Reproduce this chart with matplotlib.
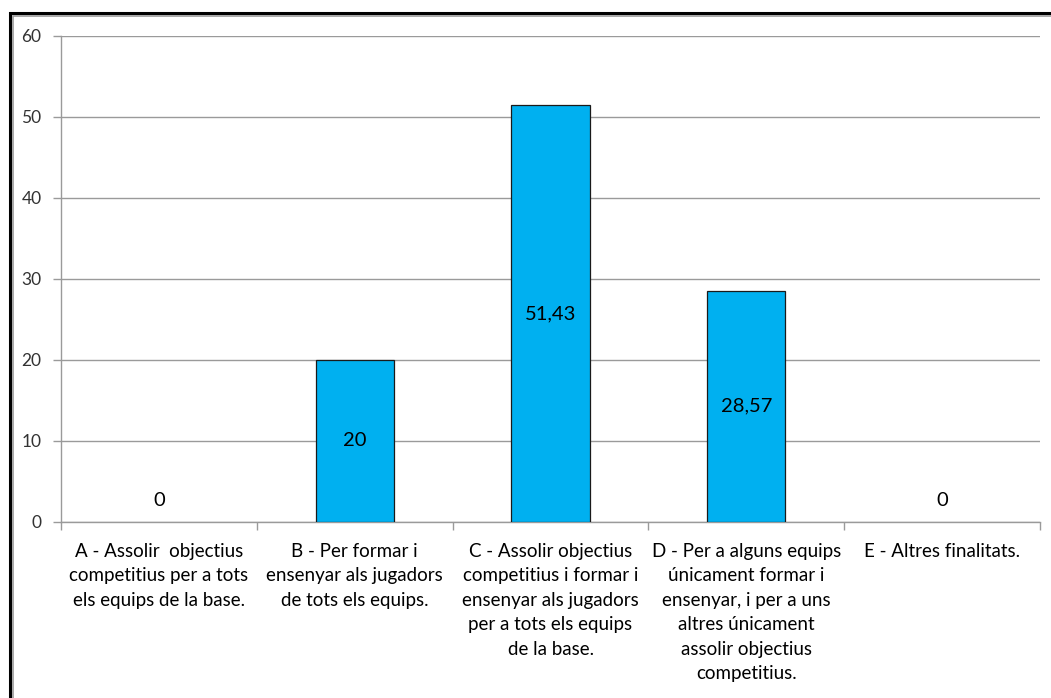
import matplotlib
matplotlib.use("Agg")
import matplotlib.pyplot as plt
from matplotlib.patches import Rectangle
from matplotlib.ticker import FixedLocator
import numpy as np

categories = [
    "A - Assolir  objectius\ncompetitius per a tots\nels equips de la base.",
    "B - Per formar i\nensenyar als jugadors\nde tots els equips.",
    "C - Assolir objectius\ncompetitius i formar i\nensenyar als jugadors\nper a tots els equips\nde la base.",
    "D - Per a alguns equips\núnicament formar i\nensenyar, i per a uns\naltres únicament\nassolir objectius\ncompetitius.",
    "E - Altres finalitats.",
]
values = [0, 20, 51.43, 28.57, 0]
value_labels = ["0", "20", "51,43", "28,57", "0"]

plt.rcParams["font.family"] = ["Lato", "DejaVu Sans"]

W, H = 1051, 698
fig = plt.figure(figsize=(W / 100, H / 100), dpi=100)
ax = fig.add_axes([61 / W, 1 - 522 / H, (1040 - 61) / W, (522 - 36) / H])

x = np.arange(len(categories))
edges = ["#1a1a1a" if v > 0 else "none" for v in values]
ax.bar(x, values, width=0.4, color="#00B0F0", edgecolor=edges,
       linewidth=0.9, zorder=3)

for xi, v, lab in zip(x, values, value_labels):
    if v > 0:
        ax.text(xi, v / 2, lab, ha="center", va="center", fontsize=14.5,
                color="black", zorder=4)
    else:
        ax.annotate(lab, (xi, v), xytext=(0, 21), textcoords="offset pixels",
                    ha="center", va="center", fontsize=14.5, color="black")

ax.set_xlim(-0.5, len(categories) - 0.5)
ax.set_ylim(0, 60)
ax.set_yticks(range(0, 61, 10))
ax.yaxis.grid(True, color="#9a9a9a", linewidth=1.0, zorder=0)
ax.set_axisbelow(True)

ax.set_xticks(x)
ax.set_xticklabels(categories, fontsize=13.5, linespacing=1.53,
                   ha="center", va="top")
ax.xaxis.set_minor_locator(FixedLocator(np.arange(-0.5, len(categories), 1.0)))
ax.tick_params(axis="x", which="major", length=0, pad=15)
ax.tick_params(axis="x", which="minor", length=6, color="#9a9a9a", width=1.0)
ax.tick_params(axis="y", length=6, color="#9a9a9a", width=1.0,
               labelsize=12.5, labelcolor="#333333", pad=8)

for side in ("top", "right"):
    ax.spines[side].set_visible(False)
for side in ("left", "bottom"):
    ax.spines[side].set_color("#9a9a9a")
    ax.spines[side].set_linewidth(1.0)

# chart frame, running off the right and bottom edges
frame = Rectangle((10 / W, -0.2), 1.3, 1 - 13 / H + 0.2,
                  transform=fig.transFigure, fill=False,
                  edgecolor="black", linewidth=2.2, clip_on=False)
fig.add_artist(frame)
shadow = Rectangle((13 / W, -0.2), 1.3, 1 - 16 / H + 0.2,
                   transform=fig.transFigure, fill=False,
                   edgecolor="#9a9a9a", linewidth=1.2, clip_on=False)
fig.add_artist(shadow)

fig.savefig("out.png", dpi=100)
